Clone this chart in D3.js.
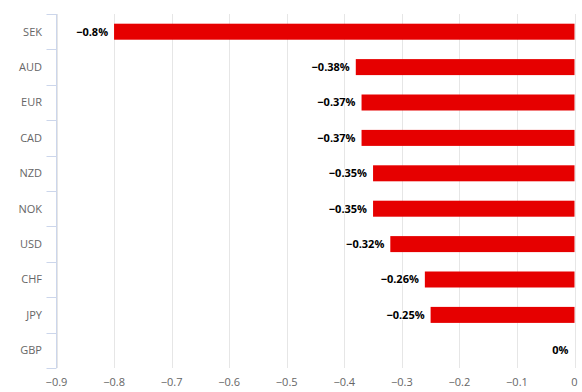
<!DOCTYPE html>
<html>
<head>
<meta charset="utf-8">
<script src="https://cdn.jsdelivr.net/npm/d3@7"></script>
<style>
  body { margin: 0; background: #fff; }
  text { font-family: "Open Sans", "DejaVu Sans", sans-serif; }
</style>
</head>
<body>
<svg width="582" height="392"></svg>
<script>
const svg = d3.select("svg");

// Currencies and their change (%)
const currencies = ["SEK", "AUD", "EUR", "CAD", "NZD", "NOK", "USD", "CHF", "JPY", "GBP"];
const changes = [-0.8, -0.38, -0.37, -0.37, -0.35, -0.35, -0.32, -0.26, -0.25, 0];
const xTicks = [-0.9, -0.8, -0.7, -0.6, -0.5, -0.4, -0.3, -0.2, -0.1, 0];

const plotLeft = 56.5, plotRight = 574.5, plotTop = 14, plotBottom = 368;

const x = d3.scaleLinear().domain([-0.9, 0]).range([plotLeft, plotRight]);
const y = d3.scaleBand().domain(currencies).range([plotTop, plotBottom]);

const minus = s => s.replace("-", "\u2212");

// Vertical grid lines
svg.append("g")
    .selectAll("line")
    .data(xTicks)
    .enter().append("line")
    .attr("x1", d => Math.round(x(d)) + 0.5)
    .attr("x2", d => Math.round(x(d)) + 0.5)
    .attr("y1", plotTop)
    .attr("y2", plotBottom)
    .attr("stroke", "#e6e6e6");

// X tick labels
svg.append("g")
    .selectAll("text")
    .data(xTicks)
    .enter().append("text")
    .attr("x", d => x(d))
    .attr("y", 386)
    .attr("text-anchor", "middle")
    .attr("font-size", 11)
    .attr("fill", "#666")
    .text(d => minus(String(d)));

// Category axis line + ticks
svg.append("line")
    .attr("x1", plotLeft).attr("x2", plotLeft)
    .attr("y1", plotTop).attr("y2", plotBottom)
    .attr("stroke", "#ccd6eb");

const catTicks = currencies.map(c => y(c)).concat([plotBottom]);
svg.append("g")
    .selectAll("line")
    .data(catTicks)
    .enter().append("line")
    .attr("x1", plotLeft - 10).attr("x2", plotLeft)
    .attr("y1", d => Math.round(d) + 0.5)
    .attr("y2", d => Math.round(d) + 0.5)
    .attr("stroke", "#ccd6eb");

// Category labels
svg.append("g")
    .selectAll("text")
    .data(currencies)
    .enter().append("text")
    .attr("x", 42)
    .attr("y", d => y(d) + y.bandwidth() / 2)
    .attr("dy", "0.35em")
    .attr("text-anchor", "end")
    .attr("font-size", 11)
    .attr("fill", "#666")
    .text(d => d);

// Bars
const barH = 16;
svg.append("g")
    .selectAll("rect")
    .data(currencies)
    .enter().append("rect")
    .attr("x", (d, i) => x(changes[i]))
    .attr("y", d => y(d) + y.bandwidth() / 2 - barH / 2)
    .attr("width", (d, i) => x(0) - x(changes[i]))
    .attr("height", barH)
    .attr("fill", "#e60000");

// Data labels
svg.append("g")
    .selectAll("text")
    .data(currencies)
    .enter().append("text")
    .attr("x", (d, i) => x(changes[i]) - 6)
    .attr("y", d => y(d) + y.bandwidth() / 2)
    .attr("dy", "0.35em")
    .attr("text-anchor", "end")
    .attr("font-size", 11)
    .attr("font-weight", "bold")
    .attr("fill", "#000")
    .attr("stroke", "#fff")
    .attr("stroke-width", 2)
    .attr("paint-order", "stroke")
    .text((d, i) => minus(String(changes[i])) + "%");
</script>
</body>
</html>
